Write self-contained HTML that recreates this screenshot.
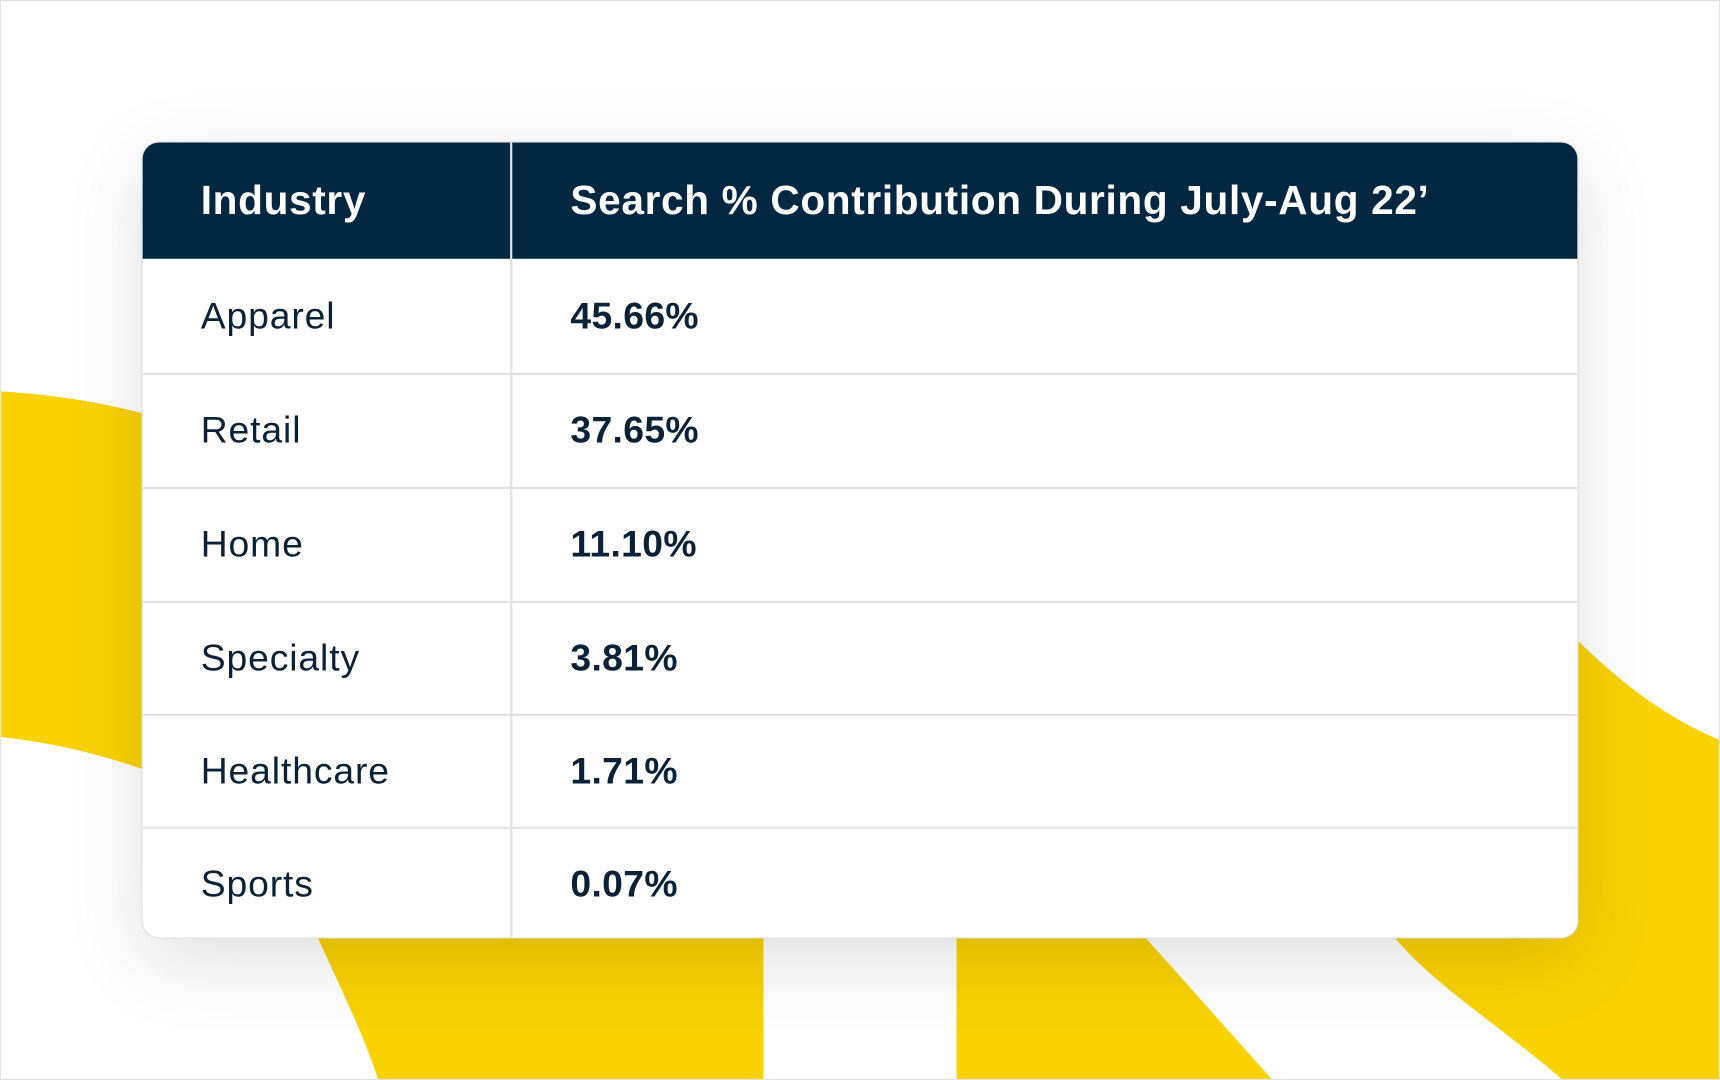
<!DOCTYPE html>
<html><head><style>
html,body{margin:0;padding:0;background:#fff;overflow:hidden}
#w{position:absolute;left:0;top:0;width:1568px;height:985px;transform-origin:0 0;transform:scale(1.09694,1.09645);background:#fff}
#frame{position:absolute;left:0;top:0;width:1566px;height:983px;border:1px solid #e2e2e2}
svg.bg{position:absolute;left:0;top:0}
#t{position:absolute;left:129px;top:129px;width:1310px;height:727px;background:#fff;border-radius:16px;box-shadow:0 20px 70px rgba(0,0,0,0.13);border:1px solid #dedede;box-sizing:border-box;overflow:hidden;font-family:"Liberation Sans",sans-serif}
.hd{position:absolute;left:0;top:0;width:100%;height:106px;background:#032741}
.row{position:absolute;left:0;width:100%;border-top:2px solid #e3e3e3;box-sizing:border-box}
.c1,.c2{position:absolute;top:50%;transform:translateY(-50%);color:#0b2236;font-size:34px;white-space:nowrap}
.c1{left:53px;letter-spacing:0.8px}
.c2{left:390px;font-weight:bold;letter-spacing:0.3px}
.hd .c1,.hd .c2{color:#fff;font-weight:bold;font-size:37px;letter-spacing:0.6px}
.vl{position:absolute;left:335px;top:0;width:2px;height:100%;background:#e3e3e3}
</style></head><body>
<div id="w">
<svg class="bg" width="1568" height="985" viewBox="0 0 1568 985">
<path fill="#f9d200" d="M0,357 C50,360 100,368 140,380 L290,856 C310,900 330,940 345,985 L696,985 L696,700 L250,760 C200,730 120,685 0,672 Z"/>
<path fill="#f9d200" d="M872,985 L872,700 L1000,700 L1045,856 L1160,985 Z"/>
<path fill="#f9d200" d="M1439,585 C1480,625 1520,655 1568,675 L1568,985 L1425,985 C1360,930 1310,900 1272,856 L1200,700 L1439,560 Z"/>
</svg>
<div id="frame"></div>
<div id="t">
<div class="hd"><div class="c1">Industry</div><div class="c2">Search % Contribution During July-Aug 22’</div></div>
<div class="vl"></div>
<div class="row" style="top:106px;height:105px;border-top:none"><div class="c1">Apparel</div><div class="c2">45.66%</div></div>
<div class="row" style="top:210px;height:104px"><div class="c1">Retail</div><div class="c2">37.65%</div></div>
<div class="row" style="top:314px;height:104px"><div class="c1">Home</div><div class="c2">11.10%</div></div>
<div class="row" style="top:418px;height:103px"><div class="c1">Specialty</div><div class="c2">3.81%</div></div>
<div class="row" style="top:521px;height:103px"><div class="c1">Healthcare</div><div class="c2">1.71%</div></div>
<div class="row" style="top:624px;height:103px"><div class="c1">Sports</div><div class="c2">0.07%</div></div>
<div class="vl" style="top:106px"></div>
</div>
</div>
</body></html>
